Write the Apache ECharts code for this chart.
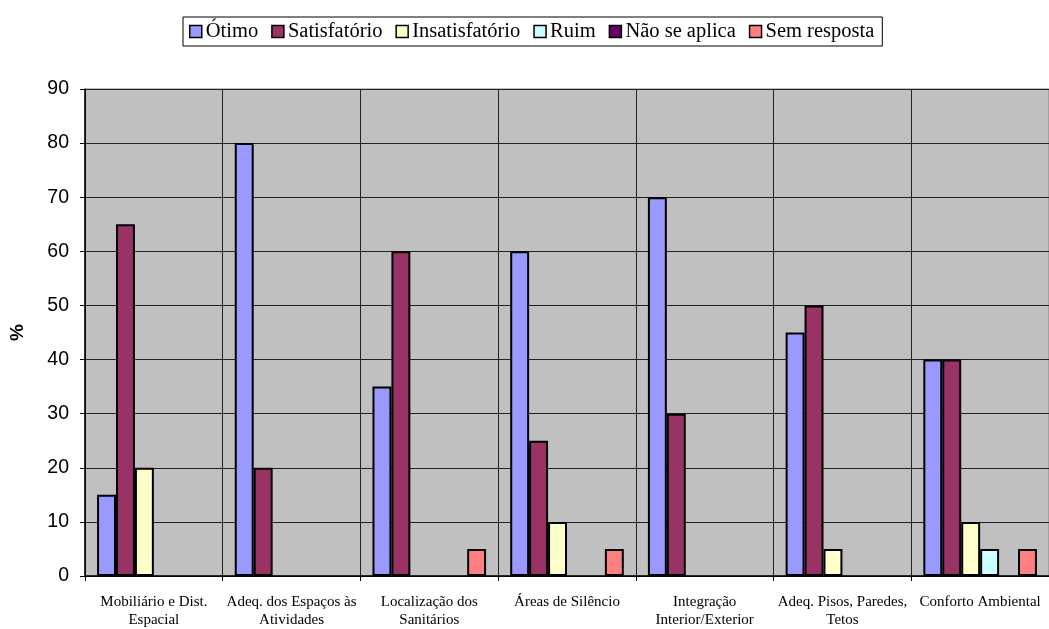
<!DOCTYPE html>
<html>
<head>
<meta charset="utf-8">
<script src="https://cdn.jsdelivr.net/npm/echarts@6/dist/echarts.min.js"></script>
<style>
html,body{margin:0;padding:0;background:#fff;}
#chart{width:1049px;height:629px;}
</style>
</head>
<body>
<div id="chart"></div>
<script>
// Avaliação dos ambientes (%)
const categories = [
  'Mobiliário e Dist.\nEspacial',
  'Adeq. dos Espaços às\nAtividades',
  'Localização dos\nSanitários',
  'Áreas de Silêncio',
  'Integração\nInterior/Exterior',
  'Adeq. Pisos, Paredes,\nTetos',
  'Conforto Ambiental'
];
const seriesNames = ['Ótimo', 'Satisfatório', 'Insatisfatório', 'Ruim', 'Não se aplica', 'Sem resposta'];
const otimo          = [15, 80, 35, 60, 70, 45, 40];
const satisfatorio   = [65, 20, 60, 25, 30, 50, 40];
const insatisfatorio = [20, 0, 0, 10, 0, 5, 10];
const ruim           = [0, 0, 0, 0, 0, 0, 5];
const naoSeAplica    = [0, 0, 0, 0, 0, 0, 0];
const semResposta    = [0, 0, 5, 5, 0, 0, 5];
const yTicks = [0, 10, 20, 30, 40, 50, 60, 70, 80, 90];

const seriesValues = [otimo, satisfatorio, insatisfatorio, ruim, naoSeAplica, semResposta];
const colors = ['#9999FF', '#993366', '#FFFFCC', '#CCFFFF', '#660066', '#FF8080'];

const chart = echarts.init(document.getElementById('chart'));
chart.setOption({
  animation: false,
  backgroundColor: '#ffffff',
  legend: {
    data: seriesNames,
    top: 17,
    left: 183,
    padding: [4, 8, 4, 6],
    borderColor: '#000',
    borderWidth: 1,
    itemWidth: 12,
    itemHeight: 12,
    itemGap: 13,
    icon: 'rect',
    itemStyle: { borderColor: '#000', borderWidth: 1.5 },
    textStyle: { fontFamily: 'Liberation Serif', fontSize: 20.5, color: '#000', padding: [0, 0, 0, -1] }
  },
  grid: {
    left: 83,
    right: -3,
    top: 89,
    bottom: 53,
    show: true,
    backgroundColor: '#C0C0C0',
    borderColor: '#808080',
    borderWidth: 1
  },
  xAxis: {
    type: 'category',
    data: categories,
    axisLine: { show: true, lineStyle: { color: '#000', width: 1.5 } },
    axisTick: { show: true, length: 5, lineStyle: { color: '#000' } },
    splitLine: { show: true, lineStyle: { color: '#222', width: 1 } },
    axisLabel: {
      fontFamily: 'Liberation Serif',
      fontSize: 15,
      color: '#000',
      lineHeight: 18,
      margin: 17,
      interval: 0
    }
  },
  yAxis: {
    type: 'value',
    min: 0,
    max: 90,
    interval: 10,
    name: '%',
    nameLocation: 'middle',
    nameGap: 58,
    nameRotate: 90,
    nameTextStyle: { fontFamily: 'Liberation Sans', fontWeight: 'bold', fontSize: 19, color: '#000' },
    axisLine: { show: true, lineStyle: { color: '#000', width: 1.5 } },
    axisTick: { show: true, length: 5, lineStyle: { color: '#000' } },
    splitLine: { show: true, lineStyle: { color: '#222', width: 1 } },
    axisLabel: {
      fontFamily: 'Liberation Sans',
      fontSize: 19.5,
      color: '#000',
      margin: 16,
      formatter: v => yTicks.includes(v) ? String(v) : ''
    }
  },
  series: seriesNames.map((name, i) => ({
    name: name,
    type: 'bar',
    // empty answers draw no outline on the baseline
    data: seriesValues[i].map(v => v === 0 ? { value: 0, itemStyle: { borderWidth: 0 } } : v),
    barGap: '0%',
    barCategoryGap: '17.5%',
    itemStyle: { color: colors[i], borderColor: '#000', borderWidth: 2 }
  }))
});
</script>
</body>
</html>
